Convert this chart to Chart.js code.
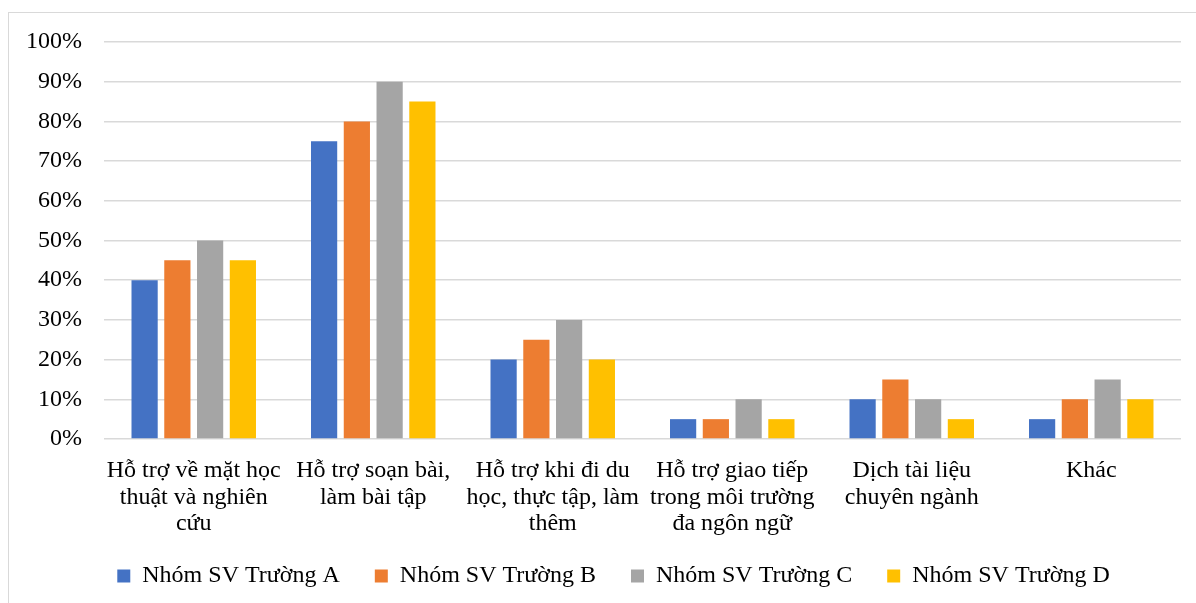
<!DOCTYPE html>
<html lang="vi">
<head>
  <meta charset="UTF-8" />
  <title>Biểu đồ hỗ trợ</title>
  <script src="https://cdn.jsdelivr.net/npm/chart.js"></script>
  <style>
    body { margin: 0; background: #fff; overflow: hidden; }
    .frame {
      position: absolute; left: 8px; top: 12px;
      width: 1188px; height: 591px;
      border: 1px solid #d9d9d9; border-right: none; border-bottom: none;
      box-sizing: border-box;
    }
    .wrap { position: absolute; left: 1px; top: 1px; width: 1186px; height: 590px; }
  </style>
</head>
<body>
  <div class="frame"><div class="wrap"><canvas id="chart"></canvas></div></div>
  <script>
    const categories = [
      ['Hỗ trợ về mặt học', 'thuật và nghiên', 'cứu'],
      ['Hỗ trợ soạn bài,', 'làm bài tập'],
      ['Hỗ trợ khi đi du', 'học, thực tập, làm', 'thêm'],
      ['Hỗ trợ giao tiếp', 'trong môi trường', 'đa ngôn ngữ'],
      ['Dịch tài liệu', 'chuyên ngành'],
      ['Khác']
    ];
    const seriesNames = ['Nhóm SV Trường A', 'Nhóm SV Trường B', 'Nhóm SV Trường C', 'Nhóm SV Trường D'];
    const truongA = [40, 75, 20, 5, 10, 5];
    const truongB = [45, 80, 25, 5, 15, 10];
    const truongC = [50, 90, 30, 10, 10, 15];
    const truongD = [45, 85, 20, 5, 5, 10];
    const colors = ['#4472C4', '#ED7D31', '#A5A5A5', '#FFC000'];

    const font = { family: "'Liberation Serif', 'Times New Roman', serif", size: 24, lineHeight: 1.12 };

    // move the legend a bit right and up, like the original
    const shiftLegend = {
      id: 'shiftLegend',
      afterLayout(chart) {
        const lg = chart.legend;
        lg.left += 21; lg.right += 21;
        lg.top -= 10; lg.bottom -= 10;
      }
    };

    new Chart(document.getElementById('chart'), {
      type: 'bar',
      data: {
        labels: categories,
        datasets: [truongA, truongB, truongC, truongD].map((d, i) => ({
          label: seriesNames[i],
          data: d,
          backgroundColor: colors[i],
          barPercentage: 0.8,
          categoryPercentage: 0.73
        }))
      },
      options: {
        responsive: true,
        maintainAspectRatio: false,
        animation: false,
        layout: { padding: { top: 0, right: 15, left: -6, bottom: -4 } },
        scales: {
          x: {
            grid: { display: false, drawTicks: false },
            border: { display: false },
            ticks: { color: '#000', font, maxRotation: 0, minRotation: 0, padding: 18, autoSkip: false },
            afterFit(scale) { scale.height = 100; }
          },
          y: {
            min: 0, max: 100,
            ticks: { stepSize: 10, color: '#000', font, padding: 22, callback: v => v + '%' },
            grid: { color: '#d9d9d9', lineWidth: 1.5, drawTicks: false },
            border: { display: false },
            afterFit(scale) { scale.paddingTop = 28; }
          }
        },
        plugins: {
          legend: {
            position: 'bottom',
            labels: { color: '#000', font, boxWidth: 13, boxHeight: 13, padding: 35 }
          },
          tooltip: { enabled: false }
        }
      },
      plugins: [shiftLegend]
    });
  </script>
</body>
</html>
